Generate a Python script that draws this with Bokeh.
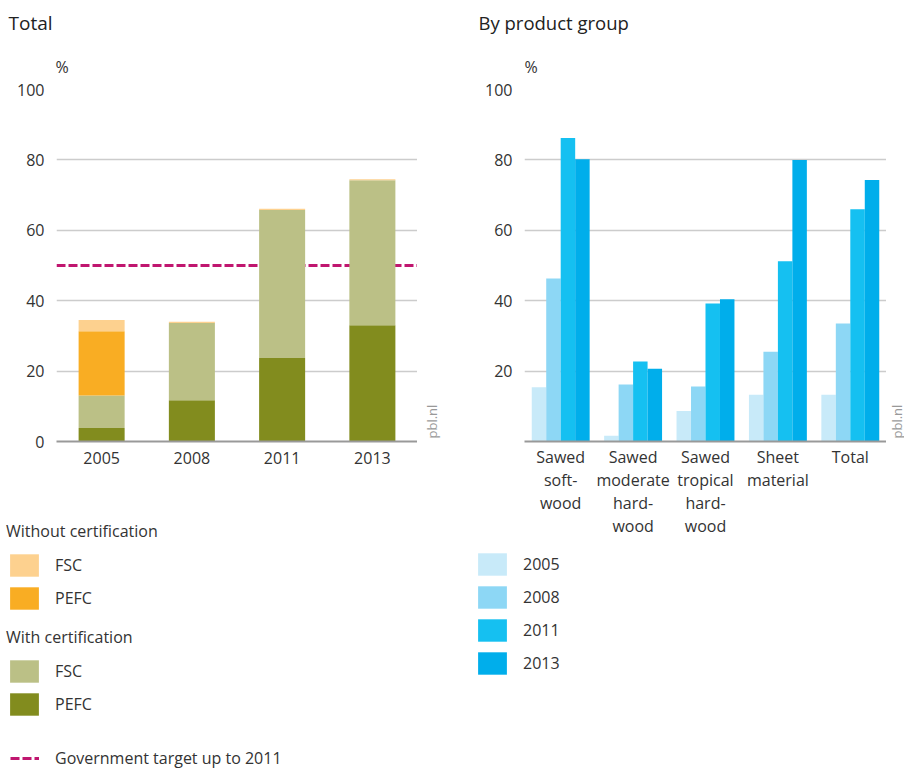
from math import pi
from bokeh.plotting import figure
from bokeh.models import (Range1d, Span, Label, Legend, LegendItem, FixedTicker,
                          ColumnDataSource)
from bokeh.layouts import row, column
from bokeh.transform import dodge
from bokeh.embed import file_html
from bokeh.resources import INLINE

# ---------------- data ----------------
years = ["2005", "2008", "2011", "2013"]
pefc_cert = [3.8, 11.7, 23.7, 33.0]
fsc_cert = [9.3, 22.0, 42.1, 41.2]
pefc_uncert = [18.2, 0.0, 0.0, 0.0]
fsc_uncert = [3.2, 0.3, 0.3, 0.3]
target = 50

groups = ["Sawed\nsoft-\nwood", "Sawed\nmoderate\nhard-\nwood",
          "Sawed\ntropical\nhard-\nwood", "Sheet\nmaterial", "Total"]
v2005 = [15.4, 1.6, 8.7, 13.3, 13.3]
v2008 = [46.3, 16.2, 15.6, 25.5, 33.5]
v2011 = [86.2, 22.7, 39.2, 51.2, 66.0]
v2013 = [80.2, 20.7, 40.4, 80.0, 74.3]
series_years = ["2005", "2008", "2011", "2013"]

# ---------------- style ----------------
FONT = "Open Sans"
TXT = "#333333"
C_FSC_U, C_PEFC_U, C_FSC_C, C_PEFC_C = "#fdd18f", "#f9ad23", "#bbc086", "#828c1e"
BLUES = ["#c8eaf9", "#8dd7f5", "#15c0f1", "#00aeeb"]
MAGENTA = "#c0166f"


def style(p, ticks, standoff):
    p.outline_line_color = None
    p.xgrid.grid_line_color = None
    p.ygrid.grid_line_color = "#cccccc"
    p.ygrid.grid_line_width = 1.5
    p.yaxis.ticker = FixedTicker(ticks=ticks)
    p.yaxis.axis_line_color = None
    p.yaxis.major_tick_line_color = None
    p.yaxis.minor_tick_line_color = None
    p.yaxis.major_label_standoff = 6
    p.xaxis.axis_line_color = "#999999"
    p.xaxis.axis_line_width = 2
    p.xaxis.major_tick_line_color = None
    p.xaxis.minor_tick_line_color = None
    p.xaxis.major_label_standoff = standoff
    for ax in (p.xaxis[0], p.yaxis[0]):
        ax.major_label_text_font = FONT
        ax.major_label_text_font_size = "16px"
        ax.major_label_text_color = TXT
    p.xaxis.major_label_text_line_height = 1.05


def blank(w, h):
    f = figure(width=w, height=h, x_range=Range1d(0, w), y_range=Range1d(0, h),
               min_border=0, toolbar_location=None, output_backend="svg",
               x_axis_location=None, y_axis_location=None, title=None)
    f.grid.visible = False
    f.outline_line_color = None
    return f


def label(p, x, y, text, size, color=TXT, angle=0.0, units="screen"):
    p.add_layout(Label(x=x, y=y, x_units=units, y_units=units, text=text,
                       text_font=FONT, text_font_size=size, text_color=color,
                       text_baseline="middle", text_align="left", angle=angle))


def legend(items, x, y, title=None, gw=36, gh=28, spacing=5, standoff=13):
    lg = Legend(items=items, location=(x, y), orientation="vertical",
                padding=0, margin=0, spacing=spacing,
                glyph_width=gw, glyph_height=gh, label_standoff=standoff,
                label_text_font=FONT, label_text_font_size="16px",
                label_text_color=TXT, border_line_color=None,
                background_fill_alpha=0, inactive_fill_alpha=0)
    if title:
        lg.title = title
        lg.title_text_font = FONT
        lg.title_text_font_size = "16px"
        lg.title_text_color = TXT
        lg.title_text_font_style = "normal"
        lg.title_standoff = 9
    return lg


# ---------------- header ----------------
header = blank(904, 80)
label(header, 8, 58, "Total", "19px", "#222222")
label(header, 55, 14, "%", "16px")
label(header, 478, 58, "By product group", "18.5px", "#222222")
label(header, 524, 14, "%", "16px")

# ---------------- left chart ----------------
p1 = figure(x_range=years, y_range=Range1d(0, 100), title=None,
            frame_width=361, frame_height=352,
            min_border_left=56, min_border_right=0,
            min_border_top=9, min_border_bottom=74,
            output_backend="svg", toolbar_location=None)
style(p1, [0, 20, 40, 60, 80, 100], 4)

src1 = ColumnDataSource(dict(years=years, pefc_cert=pefc_cert, fsc_cert=fsc_cert,
                             pefc_uncert=pefc_uncert, fsc_uncert=fsc_uncert))
p1.add_layout(Span(location=target, dimension="width", line_color=MAGENTA,
                   line_width=3, line_dash="9 3", level="underlay"))
p1.vbar_stack(["pefc_cert", "fsc_cert", "pefc_uncert", "fsc_uncert"],
              x="years", width=0.51, source=src1,
              fill_color=[C_PEFC_C, C_FSC_C, C_PEFC_U, C_FSC_U],
              line_color=None)

pbl1 = blank(53, 435)
label(pbl1, 14, 3, "pbl.nl", "13px", "#999999", angle=pi / 2)

# left legends (swatch renderers are zero-sized, only used for the legend)
leg1 = blank(470, 254)
sw = {}
for key, c in [("fsc_u", C_FSC_U), ("pefc_u", C_PEFC_U), ("fsc_c", C_FSC_C), ("pefc_c", C_PEFC_C)]:
    sw[key] = leg1.vbar(x=[0], top=[0], bottom=[0], width=0, fill_color=c, line_color=None)
gov = leg1.line(x=[0], y=[0], line_color=MAGENTA, line_width=3, line_dash="9 3")
leg1.add_layout(legend([LegendItem(label="FSC", renderers=[sw["fsc_u"]]),
                        LegendItem(label="PEFC", renderers=[sw["pefc_u"]])],
                       x=6, y=157, title="Without certification"))
leg1.add_layout(legend([LegendItem(label="FSC", renderers=[sw["fsc_c"]]),
                        LegendItem(label="PEFC", renderers=[sw["pefc_c"]])],
                       x=6, y=51, title="With certification"))
leg1.add_layout(legend([LegendItem(label="Government target up to 2011", renderers=[gov])],
                       x=10, y=0, gw=29, gh=22, standoff=16))

# ---------------- right chart ----------------
p2 = figure(x_range=groups, y_range=Range1d(0, 100), title=None,
            frame_width=362, frame_height=352,
            min_border_left=54, min_border_right=0,
            min_border_top=9, min_border_bottom=104,
            output_backend="svg", toolbar_location=None)
style(p2, [20, 40, 60, 80, 100], -2)

src2 = ColumnDataSource(dict(groups=groups, v2005=v2005, v2008=v2008,
                             v2011=v2011, v2013=v2013))
offsets = [-0.3, -0.1, 0.1, 0.3]
for col, off, c in zip(["v2005", "v2008", "v2011", "v2013"], offsets, BLUES):
    p2.vbar(x=dodge("groups", off, range=p2.x_range), top=col,
            width=0.2, source=src2, fill_color=c, line_color=None)

pbl2 = blank(18, 465)
label(pbl2, 10, 3, "pbl.nl", "13px", "#999999", angle=pi / 2)

leg2 = blank(434, 224)
yr_r = [leg2.vbar(x=[0], top=[0], bottom=[0], width=0, fill_color=c, line_color=None)
        for c in BLUES]
leg2.add_layout(legend([LegendItem(label=y, renderers=[r]) for y, r in zip(series_years, yr_r)],
                       x=4, y=92))

layout = column(header,
                row(column(row(p1, pbl1), leg1),
                    column(row(p2, pbl2), leg2)))
open("out.html", "w").write(file_html(layout, INLINE))
